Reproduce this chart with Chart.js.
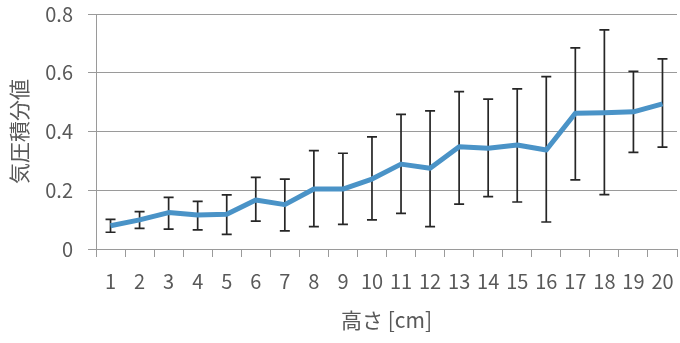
<!DOCTYPE html>
<html>
<head>
<meta charset="utf-8">
<script src="https://cdn.jsdelivr.net/npm/chart.js@4"></script>
<style>
  html, body { margin: 0; padding: 0; background: #fff; }
  #wrap { width: 680px; height: 343px; }
</style>
</head>
<body>
<div id="wrap"><canvas id="chart"></canvas></div>
<script>
const heights = ["1","2","3","4","5","6","7","8","9","10","11","12","13","14","15","16","17","18","19","20"];
const meanValues = [0.079, 0.099, 0.124, 0.116, 0.118, 0.167, 0.151, 0.204, 0.204, 0.238, 0.289, 0.275, 0.348, 0.343, 0.354, 0.337, 0.462, 0.464, 0.467, 0.494];
const errHigh = [0.101, 0.127, 0.176, 0.162, 0.184, 0.244, 0.238, 0.335, 0.326, 0.382, 0.458, 0.470, 0.536, 0.510, 0.545, 0.587, 0.685, 0.746, 0.605, 0.647];
const errLow = [0.057, 0.070, 0.068, 0.065, 0.050, 0.095, 0.062, 0.076, 0.084, 0.099, 0.121, 0.076, 0.153, 0.178, 0.160, 0.092, 0.235, 0.185, 0.329, 0.347];
const yTicks = [0, 0.2, 0.4, 0.6, 0.8];

const fontFamily = "'Noto Sans CJK JP', 'Noto Sans', sans-serif";
const textColor = "#595959";
const gridColor = "#9a9a9a";

// error bars, drawn under the line
const errorBars = {
  id: "errorBars",
  beforeDatasetsDraw(chart) {
    const ctx = chart.ctx;
    const x = chart.scales.x;
    const y = chart.scales.y;
    ctx.save();
    ctx.strokeStyle = "#262626";
    ctx.lineWidth = 1.7;
    heights.forEach((h, i) => {
      const px = x.getPixelForValue(i);
      const top = y.getPixelForValue(errHigh[i]);
      const bot = y.getPixelForValue(errLow[i]);
      ctx.beginPath();
      ctx.moveTo(px, top);
      ctx.lineTo(px, bot);
      ctx.moveTo(px - 5, top);
      ctx.lineTo(px + 5, top);
      ctx.moveTo(px - 5, bot);
      ctx.lineTo(px + 5, bot);
      ctx.stroke();
    });
    ctx.restore();
  },
};

const data = {
  labels: heights,
  datasets: [
    {
      data: meanValues,
      borderColor: "#4a93c7",
      borderWidth: 5,
      pointRadius: 0,
      tension: 0,
      borderJoinStyle: "round",
    },
  ],
};

const config = {
  type: "line",
  data: data,
  plugins: [errorBars],
  options: {
    responsive: true,
    maintainAspectRatio: false,
    animation: false,
    layout: { padding: { top: 14, right: 3, bottom: 0, left: 0 } },
    plugins: {
      legend: { display: false },
      tooltip: { enabled: false },
    },
    scales: {
      x: {
        offset: true,
        grid: {
          offset: true,
          drawOnChartArea: false,
          drawTicks: true,
          tickLength: 8,
          color: gridColor,
        },
        border: { display: true, color: gridColor },
        ticks: {
          color: textColor,
          font: { family: fontFamily, size: 20 },
          padding: 12,
          maxRotation: 0,
          autoSkip: false,
        },
        title: {
          display: true,
          text: "高さ [cm]",
          color: textColor,
          font: { family: fontFamily, size: 21 },
          padding: { top: 0, bottom: 10 },
        },
        afterFit(scale) {
          scale.height = 94;
          scale.paddingLeft = 0;
          scale.paddingRight = 0;
        },
      },
      y: {
        min: 0,
        max: 0.8,
        afterBuildTicks(scale) {
          scale.ticks = yTicks.map((v) => ({ value: v }));
        },
        grid: {
          color: gridColor,
          tickLength: 8,
        },
        border: { display: true, color: gridColor },
        ticks: {
          color: textColor,
          font: { family: fontFamily, size: 20 },
          padding: 15,
          callback: (v) => String(v),
        },
        title: {
          display: true,
          text: "気圧積分値",
          color: textColor,
          font: { family: fontFamily, size: 21 },
          padding: { top: 6, bottom: 0 },
        },
        afterFit(scale) {
          scale.width = 96;
          scale.paddingTop = 0;
          scale.paddingBottom = 0;
        },
      },
    },
  },
};

let ctx = document.getElementById("chart");
const errorChart = new Chart(ctx, config);
</script>
</body>
</html>
